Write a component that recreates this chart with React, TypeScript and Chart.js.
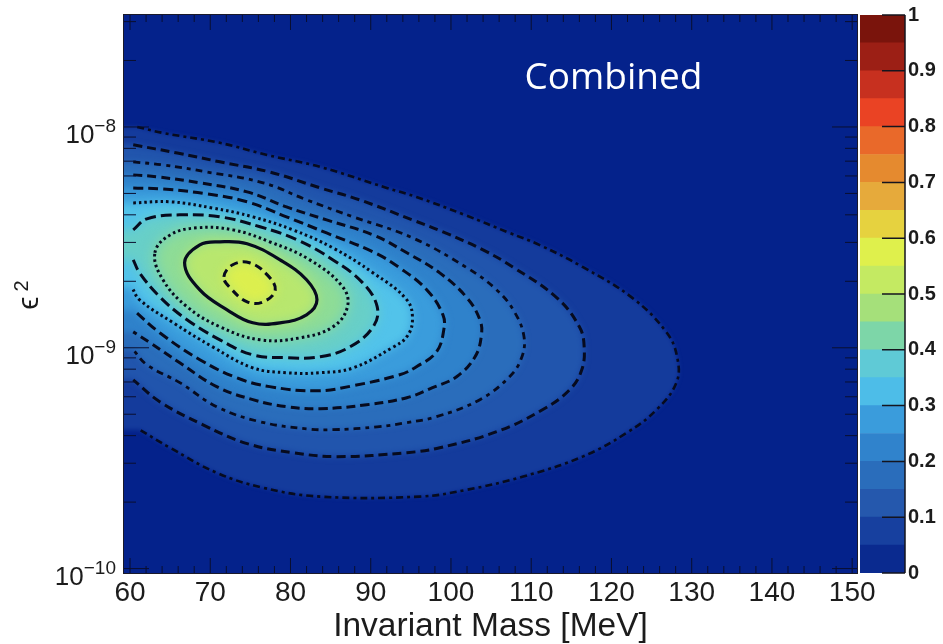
import React, { useEffect, useRef } from "react";
import { Chart, registerables } from "chart.js";

Chart.register(...registerables);

const xTickValues = [60, 70, 80, 90, 100, 110, 120, 130, 140, 150];
const yDecades = [-10, -9, -8];
const barTicks = [0, 0.1, 0.2, 0.3, 0.4, 0.5, 0.6, 0.7, 0.8, 0.9, 1];

const barColors = [
  "#0a2a8f", "#17409f", "#2558ad", "#2a6dbb", "#3083cc", "#3a9cdc", "#4dbde8", "#5fcad6", "#7dd6a8", "#a5e07a",
  "#c4ea62", "#dff04c", "#e6d23f", "#e6aa3b", "#e58a2f", "#e9692a", "#ea4324", "#c7301f", "#9c1f15", "#7a140c",
];

const c1Mass = [60.9, 64.1, 71.2, 77.1, 83.7, 92.0, 95.7, 101.7, 107.3, 111.0, 116.4, 122.6, 126.9, 128.2, 128.1, 125.6, 121.9, 116.4, 108.9, 102.0, 96.1, 83.7, 76.6, 70.8, 65.0, 61.2];
const c1Log = [-8.0, -8.027, -8.072, -8.127, -8.181, -8.276, -8.317, -8.398, -8.48, -8.534, -8.634, -8.774, -8.932, -9.045, -9.158, -9.281, -9.385, -9.493, -9.584, -9.643, -9.674, -9.674, -9.634, -9.566, -9.453, -9.371];
const c2Mass = [60.4, 65.9, 71.2, 77.4, 83.7, 88.6, 95.2, 99.0, 104.0, 107.7, 113.2, 116.0, 116.6, 116.3, 114.8, 111.4, 105.7, 98.6, 94.5, 85.8, 80.3, 74.6, 69.1, 63.7, 60.4];
const c2Log = [-8.081, -8.118, -8.158, -8.204, -8.276, -8.33, -8.421, -8.475, -8.557, -8.634, -8.774, -8.905, -8.996, -9.1, -9.19, -9.281, -9.38, -9.453, -9.475, -9.493, -9.475, -9.434, -9.349, -9.244, -9.145];
const c3Mass = [60.4, 64.1, 69.6, 76.6, 82.0, 87.8, 95.2, 102.0, 105.7, 107.9, 109.1, 108.8, 107.3, 103.6, 98.2, 94.5, 90.8, 85.3, 82.0, 76.2, 70.8, 66.2, 62.1, 60.4];
const c3Log = [-8.158, -8.172, -8.204, -8.253, -8.33, -8.407, -8.502, -8.638, -8.738, -8.837, -8.95, -9.045, -9.131, -9.235, -9.312, -9.339, -9.358, -9.371, -9.367, -9.335, -9.267, -9.158, -9.077, -9.009];
const c4Mass = [60.4, 63.4, 68.7, 74.6, 79.5, 84.5, 90.3, 94.5, 98.6, 102.0, 103.6, 103.8, 103.0, 100.7, 97.7, 94.5, 89.5, 83.7, 79.5, 75.3, 70.8, 66.2, 62.5, 60.4];
const c4Log = [-8.217, -8.226, -8.253, -8.294, -8.362, -8.421, -8.489, -8.57, -8.661, -8.774, -8.873, -8.941, -9.041, -9.131, -9.181, -9.226, -9.258, -9.276, -9.267, -9.235, -9.176, -9.068, -8.977, -8.928];
const c5Mass = [60.4, 64.1, 69.6, 74.6, 79.5, 84.5, 90.3, 93.6, 97.0, 99.0, 99.1, 98.2, 95.7, 93.6, 87.8, 83.3, 77.4, 73.3, 68.7, 63.7, 60.4];
const c5Log = [-8.276, -8.281, -8.303, -8.339, -8.407, -8.48, -8.566, -8.638, -8.738, -8.851, -8.919, -9.018, -9.086, -9.122, -9.172, -9.195, -9.176, -9.136, -9.054, -8.932, -8.828];
const c6Mass = [60.4, 65.0, 70.3, 75.3, 80.3, 85.3, 90.3, 94.5, 95.2, 94.5, 92.7, 87.8, 83.7, 79.5, 75.3, 70.3, 65.4, 61.2, 60.2];
const c6Log = [-8.344, -8.339, -8.367, -8.407, -8.466, -8.548, -8.661, -8.783, -8.873, -8.95, -8.999, -9.091, -9.113, -9.113, -9.091, -8.996, -8.887, -8.783, -8.724];
const c7Mass = [60.4, 62.1, 66.2, 71.2, 76.2, 80.8, 85.3, 89.0, 90.8, 90.3, 87.4, 83.7, 79.5, 75.3, 71.2, 67.1, 63.7, 61.2, 60.4];
const c7Log = [-8.466, -8.416, -8.398, -8.407, -8.452, -8.511, -8.602, -8.706, -8.814, -8.905, -8.996, -9.041, -9.045, -9.032, -8.964, -8.873, -8.769, -8.661, -8.602];
const c8Mass = [63.1, 65.0, 68.3, 72.8, 77.4, 82.4, 86.5, 87.1, 85.3, 81.2, 76.2, 71.2, 67.1, 64.1];
const c8Log = [-8.57, -8.489, -8.457, -8.466, -8.52, -8.602, -8.724, -8.814, -8.905, -8.955, -8.964, -8.905, -8.814, -8.692];
const c9Mass = [66.8, 68.7, 71.2, 74.6, 78.7, 82.0, 83.3, 82.0, 78.7, 75.3, 72.1, 68.7];
const c9Log = [-8.615, -8.534, -8.52, -8.529, -8.602, -8.692, -8.783, -8.851, -8.887, -8.887, -8.828, -8.738];
const c10Mass = [71.7, 72.8, 74.9, 77.1, 78.1, 76.6, 74.6, 72.5];
const c10Log = [-8.679, -8.624, -8.615, -8.67, -8.738, -8.792, -8.792, -8.729];

const contours = [
  { mass: c1Mass, log: c1Log, fill: "#143b9c", blur: 2, dash: [7, 4, 3, 4], width: 2.6, open: true },
  { mass: c2Mass, log: c2Log, fill: "#2155ad", blur: 3, dash: [9, 5], width: 3, open: true },
  { mass: c3Mass, log: c3Log, fill: "#2a6dbb", blur: 3, dash: [7, 5, 4, 5], width: 2.8, open: true },
  { mass: c4Mass, log: c4Log, fill: "#2f82cb", blur: 3, dash: [9, 5], width: 3, open: true },
  { mass: c5Mass, log: c5Log, fill: "#3a9cdc", blur: 4, dash: [10, 5], width: 3, open: true },
  { mass: c6Mass, log: c6Log, fill: "#52c3ea", blur: 5, dash: [2.5, 3], width: 3, open: true },
  { mass: c7Mass, log: c7Log, fill: "#68cfc8", blur: 6, dash: [11, 5], width: 3, open: true },
  { mass: c8Mass, log: c8Log, fill: "#8edc96", blur: 7, dash: [2.5, 3], width: 3, open: false },
  { mass: c9Mass, log: c9Log, fill: "#b8e76e", blur: 6, dash: [], width: 3.2, open: false },
  { mass: c10Mass, log: c10Log, fill: "#dcef4e", blur: 6, dash: [8, 5], width: 3, open: false },
];

const xTitle = "Invariant Mass [MeV]";
const annotation = "Combined";
const inkColor = "#1c1c1c";
const lineColor = "#070b1e";

const heatPlugin = {
  id: "heat",
  beforeDatasetsDraw(chart: any) {
    const { ctx, chartArea: a } = chart;
    ctx.save();
    ctx.beginPath();
    ctx.rect(a.left, a.top, a.right - a.left, a.bottom - a.top);
    ctx.clip();
    ctx.fillStyle = "#04228b";
    ctx.fillRect(a.left, a.top, a.right - a.left, a.bottom - a.top);
    contours.forEach((c, i) => {
      const meta = chart.getDatasetMeta(i);
      const line = meta.dataset;
      const pts = meta.data;
      if (!c.open) {
        line._loop = true;
        line._fullLoop = true;
        line._pointsUpdated = false;
        delete line._segments;
        delete line._path;
      }
      line.updateControlPoints(a, "x");
      ctx.filter = `blur(${c.blur}px)`;
      ctx.fillStyle = c.fill;
      ctx.beginPath();
      line.path(ctx);
      if (c.open) {
        ctx.lineTo(a.left - 30, pts[pts.length - 1].y);
        ctx.lineTo(a.left - 30, pts[0].y);
      }
      ctx.closePath();
      ctx.fill();
    });
    ctx.filter = "none";
    ctx.restore();
  },
};

const framePlugin = {
  id: "frame",
  afterDatasetsDraw(chart: any) {
    const { ctx, chartArea: a, scales } = chart;
    const x = scales.x;
    const y = scales.y;
    ctx.save();
    ctx.strokeStyle = "#0a0f30";
    ctx.lineWidth = 1;
    ctx.beginPath();
    for (let m = 60; m <= 150; m += 2) {
      const px = x.getPixelForValue(m);
      const len = m % 10 === 0 ? 15 : 7;
      ctx.moveTo(px, a.bottom);
      ctx.lineTo(px, a.bottom - len);
      ctx.moveTo(px, a.top);
      ctx.lineTo(px, a.top + len);
    }
    for (let d = -10; d <= -8; d++) {
      for (let k = 1; k <= 9; k++) {
        const v = k * Math.pow(10, d);
        if (v > y.max) continue;
        const py = y.getPixelForValue(v);
        const len = k === 1 ? 25 : 12;
        ctx.moveTo(a.left, py);
        ctx.lineTo(a.left + len, py);
        ctx.moveTo(a.right, py);
        ctx.lineTo(a.right - len, py);
      }
    }
    ctx.stroke();
    ctx.strokeStyle = "#1a1a2a";
    ctx.strokeRect(a.left - 0.5, a.top - 0.5, a.right - a.left + 1, a.bottom - a.top + 1);

    ctx.fillStyle = inkColor;
    ctx.textBaseline = "alphabetic";
    yDecades.forEach((d) => {
      const py = y.getPixelForValue(Math.pow(10, d));
      const sup = "\u2212" + String(-d);
      ctx.font = '19px "Liberation Sans"';
      ctx.textAlign = "right";
      ctx.fillText(sup, 116, py + 5);
      const w = ctx.measureText(sup).width;
      ctx.font = '26px "Liberation Sans"';
      ctx.fillText("10", 116 - w, py + 16);
    });

    ctx.save();
    ctx.translate(38, 295);
    ctx.rotate(-Math.PI / 2);
    ctx.textAlign = "center";
    ctx.font = '30px "Liberation Sans", "DejaVu Sans"';
    ctx.fillText("\u03F5", -8, 0);
    ctx.font = '20px "Liberation Sans"';
    ctx.fillText("2", 9, -10);
    ctx.restore();

    ctx.fillStyle = "#ffffff";
    ctx.font = '37px "Open Sans"';
    ctx.textAlign = "center";
    ctx.textBaseline = "middle";
    ctx.fillText(annotation, 613.5, 78);
    ctx.restore();
  },
};

const barTickPlugin = {
  id: "barTicks",
  afterDatasetsDraw(chart: any) {
    const { ctx, chartArea: a, scales } = chart;
    ctx.save();
    ctx.strokeStyle = "#14141e";
    ctx.lineWidth = 1.5;
    ctx.beginPath();
    barTicks.forEach((t) => {
      const py = scales.y.getPixelForValue(t);
      ctx.moveTo(a.right, py);
      ctx.lineTo(a.right - 23, py);
    });
    ctx.moveTo(a.right, a.top);
    ctx.lineTo(a.right, a.bottom);
    ctx.stroke();
    ctx.restore();
  },
};

export default function App() {
  const mainRef = useRef<HTMLCanvasElement>(null);
  const barRef = useRef<HTMLCanvasElement>(null);

  useEffect(() => {
    const main = new Chart(mainRef.current as any, {
      type: "scatter",
      data: {
        datasets: contours.map((c, i) => ({
          label: `contour ${i + 1}`,
          data: c.mass.map((m, j) => ({ x: m, y: Math.pow(10, c.log[j]) })),
          showLine: true,
          tension: 0.4,
          borderColor: lineColor,
          borderWidth: c.width,
          borderDash: c.dash,
          pointRadius: 0,
          fill: false,
        })),
      },
      plugins: [heatPlugin, framePlugin],
      options: {
        animation: false,
        responsive: false,
        layout: { padding: { top: 15, right: 86, left: 0, bottom: 0 } },
        plugins: { legend: { display: false }, tooltip: { enabled: false } },
        scales: {
          x: {
            type: "linear",
            min: 59.25,
            max: 150.6,
            afterFit: (s: any) => { s.height = 71; },
            afterBuildTicks: (s: any) => { s.ticks = xTickValues.map((v) => ({ value: v })); },
            grid: { display: false, drawTicks: false },
            border: { display: false },
            ticks: { color: inkColor, font: { family: "Liberation Sans", size: 28 }, padding: 3, maxRotation: 0, autoSkip: false },
            title: { display: true, text: xTitle, color: inkColor, font: { family: "Liberation Sans", size: 33.5, lineHeight: 1 }, padding: 0 },
          },
          y: {
            type: "logarithmic",
            min: Math.pow(10, -10.02),
            max: Math.pow(10, -7.493),
            afterFit: (s: any) => { s.width = 124; },
            grid: { display: false, drawTicks: false },
            border: { display: false },
            ticks: { display: false },
          },
        },
      },
    } as any);

    const bar = new Chart(barRef.current as any, {
      type: "bar",
      data: {
        labels: ["z"],
        datasets: barColors.map((color, i) => ({
          label: `band ${i + 1}`,
          data: [[i / 20, (i + 1) / 20]],
          backgroundColor: color,
          grouped: false,
          barPercentage: 1,
          categoryPercentage: 1,
        })),
      },
      plugins: [barTickPlugin],
      options: {
        animation: false,
        responsive: false,
        layout: { padding: { top: 15, left: 860, right: 0, bottom: 71 } },
        plugins: { legend: { display: false }, tooltip: { enabled: false } },
        scales: {
          x: { display: false },
          y: {
            position: "right",
            min: 0,
            max: 1,
            afterFit: (s: any) => { s.width = 38; },
            afterBuildTicks: (s: any) => { s.ticks = barTicks.map((v) => ({ value: v })); },
            grid: { display: false, drawTicks: false },
            border: { display: false },
            ticks: {
              color: inkColor,
              font: { family: "Liberation Sans", size: 20, weight: "bold" },
              padding: 3,
              autoSkip: false,
              callback: (v: any) => String(Math.round(v * 10) / 10),
            },
          },
        },
      },
    } as any);

    return () => {
      main.destroy();
      bar.destroy();
    };
  }, []);

  return (
    <div style={{ position: "fixed", left: 0, top: 0, width: 943, height: 644, background: "#fff" }}>
      <canvas ref={mainRef} width={943} height={644} style={{ position: "absolute", left: 0, top: 0 }} />
      <canvas ref={barRef} width={943} height={644} style={{ position: "absolute", left: 0, top: 0 }} />
    </div>
  );
}
